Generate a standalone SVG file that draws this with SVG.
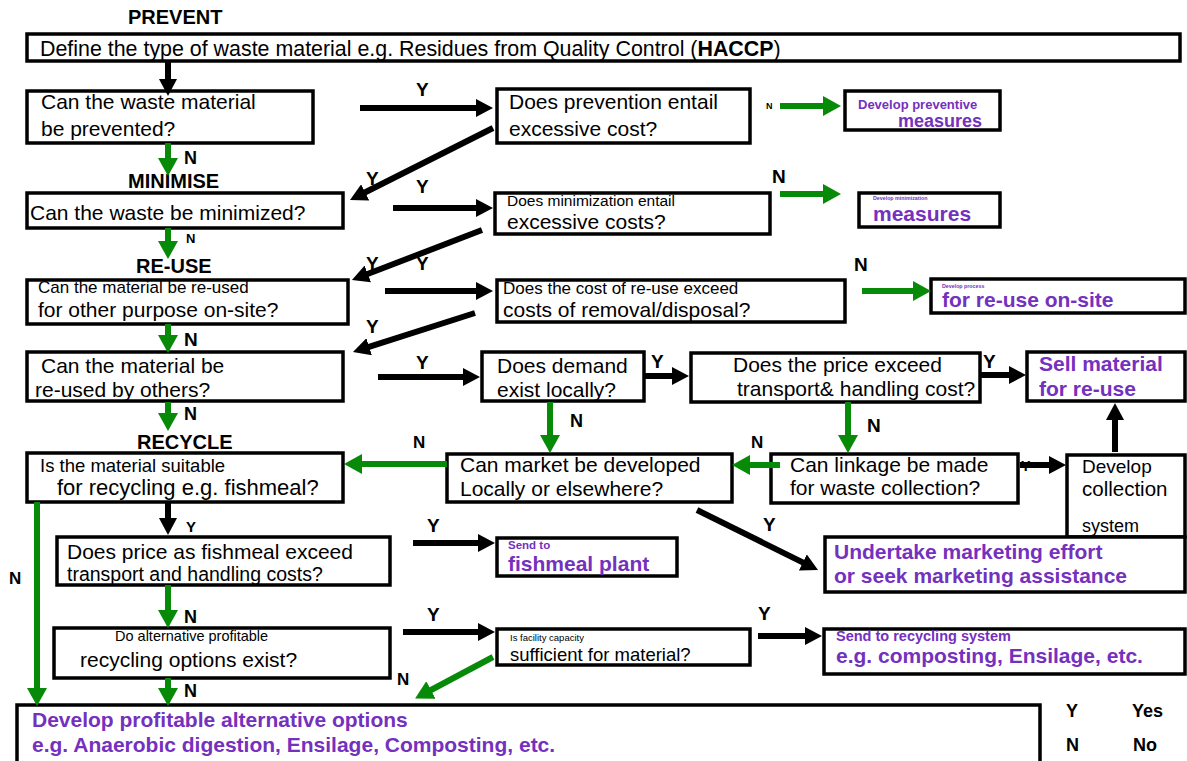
<svg xmlns="http://www.w3.org/2000/svg" width="1187" height="761" viewBox="0 0 1187 761">
<style>
.box{fill:#fff;stroke:#000;stroke-width:3.5}
text{font-family:"Liberation Sans",Arial,sans-serif;fill:#000}
.b{font-weight:bold}
.p{fill:#7430BE;font-weight:bold}
.s21{font-size:21px}
.lab{font-weight:bold;font-size:19px}
.k{stroke:#000;stroke-width:6;fill:none;marker-end:url(#hk)}
.g{stroke:#078A07;stroke-width:6;fill:none;marker-end:url(#hg)}
</style>
<defs>
<marker id="hk" markerUnits="userSpaceOnUse" markerWidth="18" markerHeight="18" refX="1" refY="9" orient="auto"><path d="M0,0 L17,9 L0,18 z" fill="#000"/></marker>
<marker id="hg" markerUnits="userSpaceOnUse" markerWidth="19" markerHeight="20" refX="1" refY="10" orient="auto"><path d="M0,0 L18,10 L0,20 z" fill="#078A07"/></marker>
</defs>
<rect width="1187" height="761" fill="#fff"/>

<g id="headings">
<text class="b" x="128" y="24" font-size="20">PREVENT</text>
<text class="b" x="128" y="188" font-size="20">MINIMISE</text>
<text class="b" x="136" y="273" font-size="20">RE-USE</text>
<text class="b" x="137" y="449" font-size="20">RECYCLE</text>
</g>

<g id="n-define"><rect class="box" x="27" y="34" width="1153" height="27"/>
<text x="40" y="56" font-size="21.4">Define the type of waste material e.g. Residues from Quality Control (<tspan font-weight="bold">HACCP</tspan>)</text></g>

<g id="n-prevented"><rect class="box" x="27" y="91" width="286" height="52"/>
<text class="s21" x="41" y="109">Can the waste material</text><text class="s21" x="41" y="136">be prevented?</text></g>

<g id="n-prevcost"><rect class="box" x="497" y="89" width="253" height="54"/>
<text class="s21" x="509" y="109">Does prevention entail</text><text class="s21" x="509" y="136">excessive cost?</text></g>

<g id="n-prevmeasures"><rect class="box" x="845" y="91" width="155" height="39"/>
<text class="p" x="858" y="109" font-size="13">Develop preventive</text><text class="p" x="898" y="127" font-size="18">measures</text></g>

<g id="n-minimized"><rect class="box" x="27" y="193" width="316" height="35"/>
<text class="s21" x="30" y="220">Can the waste be minimized?</text></g>

<g id="n-mincost"><rect class="box" x="495" y="193" width="275" height="41"/>
<text x="507" y="206" font-size="15.5">Does minimization entail</text><text class="s21" x="507" y="229">excessive costs?</text></g>

<g id="n-minmeasures"><rect class="box" x="859" y="193" width="141" height="34"/>
<text class="p" x="873" y="200" font-size="5.3">Develop minimization</text><text class="p s21" x="873" y="221">measures</text></g>

<g id="n-reuseonsite"><rect class="box" x="27" y="280" width="321" height="44"/>
<text x="38" y="293" font-size="17">Can the material be re-used</text><text class="s21" x="38" y="317">for other purpose on-site?</text></g>

<g id="n-reusecost"><rect class="box" x="497" y="280" width="348" height="42"/>
<text x="503" y="294" font-size="17">Does the cost of re-use exceed</text><text class="s21" x="503" y="317">costs of removal/disposal?</text></g>

<g id="n-reuseprocess"><rect class="box" x="931" y="279" width="254" height="34"/>
<text class="p" x="942" y="288" font-size="5.3">Develop process</text><text class="p s21" x="942" y="307">for re-use on-site</text></g>

<g id="n-others"><rect class="box" x="27" y="352" width="316" height="49"/>
<text class="s21" x="41" y="373">Can the material be</text><text class="s21" x="35" y="397">re-used by others?</text></g>

<g id="n-demand"><rect class="box" x="482" y="352" width="162" height="49"/>
<text class="s21" x="497" y="373">Does demand</text><text class="s21" x="497" y="397">exist locally?</text></g>

<g id="n-price"><rect class="box" x="691" y="353" width="289" height="49"/>
<text class="s21" x="733" y="372">Does the price exceed</text><text class="s21" x="737" y="396">transport&amp; handling cost?</text></g>

<g id="n-sell"><rect class="box" x="1027" y="352" width="158" height="49"/>
<text class="p s21" x="1039" y="371">Sell material</text><text class="p s21" x="1039" y="396">for re-use</text></g>

<g id="n-suitable"><rect class="box" x="27" y="453" width="316" height="49"/>
<text x="40" y="472" font-size="18.5">Is the material suitable</text><text x="57" y="495" font-size="22">for recycling e.g. fishmeal?</text></g>

<g id="n-market"><rect class="box" x="447" y="454" width="285" height="48"/>
<text class="s21" x="460" y="472">Can market be developed</text><text class="s21" x="460" y="496">Locally or elsewhere?</text></g>

<g id="n-linkage"><rect class="box" x="771" y="454" width="247" height="49"/>
<text class="s21" x="790" y="472">Can linkage be made</text><text class="s21" x="790" y="495">for waste collection?</text></g>

<g id="n-collection"><rect class="box" x="1067" y="455" width="118" height="82"/>
<text x="1082" y="473" font-size="19">Develop</text><text x="1082" y="496" font-size="20.5">collection</text><text x="1082" y="532" font-size="18">system</text></g>

<g id="n-undertake"><rect class="box" x="825" y="537" width="360" height="55"/>
<text class="p s21" x="834" y="559">Undertake marketing effort</text><text class="p s21" x="834" y="583">or seek marketing assistance</text></g>

<g id="n-fishprice"><rect class="box" x="57" y="537" width="333" height="48"/>
<text class="s21" x="67" y="559">Does price as fishmeal exceed</text><text x="67" y="581" font-size="19.5">transport and handling costs?</text></g>

<g id="n-fishplant"><rect class="box" x="497" y="538" width="180" height="38"/>
<text class="p" x="508" y="549" font-size="11.5">Send to</text><text class="p s21" x="508" y="571">fishmeal plant</text></g>

<g id="n-altoptions"><rect class="box" x="54" y="628" width="336" height="50"/>
<text x="115" y="641" font-size="14.5">Do alternative profitable</text><text class="s21" x="80" y="667">recycling options exist?</text></g>

<g id="n-facility"><rect class="box" x="497" y="629" width="253" height="36"/>
<text x="510" y="641" font-size="9.5">Is facility capacity</text><text x="510" y="661" font-size="18.5">sufficient for material?</text></g>

<g id="n-recsystem"><rect class="box" x="824" y="629" width="361" height="45"/>
<text class="p" x="836" y="641" font-size="14.5">Send to recycling system</text><text class="p s21" x="836" y="663">e.g. composting, Ensilage, etc.</text></g>

<g id="n-develop"><rect class="box" x="17" y="705" width="1023" height="62"/>
<text class="p s21" x="32" y="727">Develop profitable alternative options</text><text class="p s21" x="32" y="752">e.g. Anaerobic digestion, Ensilage, Composting, etc.</text></g>

<g id="connectors">
<line class="k" x1="168" y1="62" x2="168" y2="80"/>
<line class="k" x1="360" y1="108" x2="477" y2="108"/>
<line class="k" x1="493" y1="128" x2="364.3" y2="192.8"/>
<line class="k" x1="393" y1="208" x2="477" y2="208"/>
<line class="k" x1="482" y1="230" x2="366.9" y2="274.3"/>
<line class="k" x1="385" y1="291" x2="477" y2="291"/>
<line class="k" x1="475" y1="313" x2="368.2" y2="347.1"/>
<line class="k" x1="378" y1="377" x2="464" y2="377"/>
<line class="k" x1="645" y1="376" x2="673" y2="376"/>
<line class="k" x1="981" y1="375" x2="1010" y2="375"/>
<line class="k" x1="1115" y1="452" x2="1115" y2="419"/>
<line class="k" x1="1020" y1="465" x2="1050" y2="465"/>
<line class="k" x1="697" y1="510" x2="803.7" y2="562.9"/>
<line class="k" x1="168" y1="502" x2="168" y2="519"/>
<line class="k" x1="413" y1="543" x2="479" y2="543"/>
<line class="k" x1="403" y1="632" x2="479" y2="632"/>
<line class="k" x1="758" y1="636" x2="806" y2="636"/>

<line class="g" x1="780" y1="106" x2="824" y2="106"/>
<line class="g" x1="168" y1="143" x2="168" y2="159"/>
<line class="g" x1="780" y1="194" x2="824" y2="194"/>
<line class="g" x1="168" y1="228" x2="168" y2="242"/>
<line class="g" x1="862" y1="291" x2="914" y2="291"/>
<line class="g" x1="168" y1="324" x2="168" y2="336"/>
<line class="g" x1="168" y1="402" x2="168" y2="414"/>
<line class="g" x1="550" y1="402" x2="550" y2="436"/>
<line class="g" x1="848" y1="402" x2="848" y2="436"/>
<line class="g" x1="780" y1="465" x2="749" y2="465"/>
<line class="g" x1="447" y1="464" x2="361" y2="464"/>
<line class="g" x1="168" y1="585" x2="168" y2="611"/>
<line class="g" x1="493" y1="657" x2="430.1" y2="690.5"/>
<line class="g" x1="168" y1="678" x2="168" y2="689"/>
<line class="g" x1="37" y1="502" x2="37" y2="689"/>

<text class="lab" x="416" y="96">Y</text>
<text class="lab" x="366" y="185">Y</text>
<text class="lab" x="416" y="193">Y</text>
<text class="lab" x="366" y="270">Y</text>
<text class="lab" x="416" y="270">Y</text>
<text class="lab" x="366" y="333">Y</text>
<text class="lab" x="416" y="369">Y</text>
<text class="lab" x="651" y="368">Y</text>
<text class="lab" x="983" y="368">Y</text>
<text class="b" x="1021" y="471" font-size="14">Y</text>
<text class="lab" x="763" y="531">Y</text>
<text class="b" x="186" y="532" font-size="15">Y</text>
<text class="lab" x="427" y="532">Y</text>
<text class="lab" x="427" y="621">Y</text>
<text class="lab" x="758" y="620">Y</text>

<text class="b" x="766" y="109" font-size="9">N</text>
<text class="b" x="184" y="164" font-size="18">N</text>
<text class="lab" x="772" y="183">N</text>
<text class="b" x="186" y="243" font-size="13">N</text>
<text class="lab" x="854" y="271">N</text>
<text class="lab" x="184" y="346">N</text>
<text class="b" x="184" y="420" font-size="18">N</text>
<text class="b" x="570" y="427" font-size="18">N</text>
<text class="lab" x="867" y="432">N</text>
<text class="b" x="751" y="448" font-size="17">N</text>
<text class="b" x="413" y="448" font-size="17">N</text>
<text class="b" x="184" y="623" font-size="18">N</text>
<text class="b" x="397" y="685" font-size="17">N</text>
<text class="b" x="184" y="697" font-size="18">N</text>
<text class="b" x="9" y="584" font-size="17">N</text>
</g>

<g id="legend">
<text class="b" x="1066" y="717" font-size="18">Y</text>
<text class="b" x="1132" y="717" font-size="18">Yes</text>
<text class="b" x="1066" y="751" font-size="18">N</text>
<text class="b" x="1133" y="751" font-size="18">No</text>
</g>
</svg>
